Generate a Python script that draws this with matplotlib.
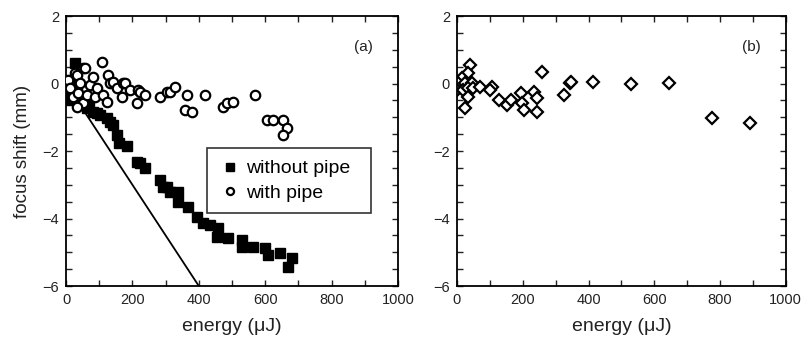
import matplotlib.pyplot as plt
from matplotlib.ticker import MultipleLocator

plt.rcParams['font.family'] = ['Liberation Sans', 'DejaVu Sans']

# (a) without pipe
nopipe_energy = [10, 12, 15, 18, 21, 27, 33, 42, 50, 63, 70, 81, 93, 102, 123, 133, 142,
                 154, 160, 184, 214, 223, 238, 283, 292, 304, 313, 337, 337, 367, 395,
                 413, 434, 458, 455, 488, 530, 530, 563, 599, 608, 645, 681, 669]
nopipe_shift = [-0.1, -0.3, -0.5, -0.4, 0.0, 0.6, -0.2, -0.58, -0.5, -0.73, -0.6, -0.84,
                -0.87, -0.93, -1.02, -1.14, -1.23, -1.53, -1.76, -1.85, -2.33, -2.36,
                -2.5, -2.86, -3.07, -3.07, -3.21, -3.21, -3.5, -3.66, -3.96, -4.13,
                -4.19, -4.28, -4.55, -4.58, -4.64, -4.84, -4.84, -4.87, -5.08, -5.02,
                -5.17, -5.44]

# (a) with pipe
pipe_energy = [6, 12, 21, 27, 33, 36, 42, 51, 51, 57, 63, 72, 81, 87, 93, 108, 111, 123,
               127, 133, 142, 154, 169, 172, 178, 193, 214, 217, 223, 238, 283, 304,
               313, 328, 358, 364, 380, 419, 473, 485, 503, 569, 605, 623, 654, 666, 654, 33]
pipe_shift = [0.1, -0.13, -0.4, 0.31, 0.25, -0.28, 0.01, 0.46, -0.58, 0.46, -0.34, -0.04,
              0.19, -0.4, -0.13, 0.64, -0.34, -0.55, 0.25, 0.01, 0.04, -0.13, -0.4, 0.01,
              0.01, -0.19, -0.58, -0.19, -0.25, -0.34, -0.4, -0.25, -0.25, -0.1, -0.79,
              -0.34, -0.84, -0.34, -0.7, -0.58, -0.55, -0.34, -1.08, -1.08, -1.08,
              -1.32, -1.53, -0.7]

# linear reference line
line_energy = [0, 400]
line_shift = [0, -6]

# (b)
b_energy = [39, 33, 15, 3, 24, 45, 0, 18, 33, 48, 69, 105, 99, 33, 24, 129, 153, 165, 195,
            198, 204, 234, 243, 243, 258, 324, 345, 348, 414, 530, 646, 775, 892]
b_shift = [0.55, 0.31, 0.16, 0.01, 0.01, 0.01, -0.19, -0.19, -0.13, -0.13, -0.1, -0.1,
           -0.19, -0.4, -0.73, -0.49, -0.64, -0.49, -0.28, -0.58, -0.79, -0.25, -0.43,
           -0.84, 0.34, -0.34, 0.01, 0.04, 0.04, -0.01, 0.01, -1.02, -1.17]

fig = plt.figure(figsize=(8.02, 3.46), dpi=100)
ax1 = fig.add_axes([0.0823, 0.1734, 0.414, 0.7803])
ax2 = fig.add_axes([0.5698, 0.1734, 0.41, 0.7803])

ax1.plot(line_energy, line_shift, color='black', lw=1.3, zorder=1)
ax1.plot(nopipe_energy, nopipe_shift, 's', color='black', ms=6.8, ls='none',
         label='without pipe', zorder=2)
ax1.plot(pipe_energy, pipe_shift, 'o', mfc='white', mec='black', mew=1.6, ms=6.8,
         ls='none', label='with pipe', zorder=3)
ax2.plot(b_energy, b_shift, 'D', mfc='white', mec='black', mew=1.6, ms=5.8, ls='none')

for ax, tag in [(ax1, '(a)'), (ax2, '(b)')]:
    ax.set_xlim(0, 1000)
    ax.set_ylim(-6, 2)
    ax.xaxis.set_major_locator(MultipleLocator(200))
    ax.xaxis.set_minor_locator(MultipleLocator(100))
    ax.yaxis.set_major_locator(MultipleLocator(2))
    ax.yaxis.set_minor_locator(MultipleLocator(0.5))
    ax.tick_params(which='both', direction='in', top=True, right=True,
                   length=4, width=1, labelsize=10.5, colors='#222222', pad=5)
    for s in ax.spines.values():
        s.set_linewidth(1.3)
    ax.set_xlabel('energy (μJ)', fontsize=14, color='#222222', labelpad=8)
    ax.text(0.895, 0.885, tag, transform=ax.transAxes, fontsize=11, ha='center',
            va='center', color='#222222')

ax1.set_ylabel('focus shift (mm)', fontsize=13.5, color='#222222', labelpad=8)

ax1.legend(loc='upper left', bbox_to_anchor=(0.425, 0.26, 0.495, 0.251), mode='expand',
           borderaxespad=0, fontsize=14, frameon=True, fancybox=False, edgecolor='black',
           handletextpad=0.2, handlelength=1.2, borderpad=0.6, labelspacing=0.35,
           markerscale=0.75)
leg = ax1.get_legend()
leg.get_frame().set_linewidth(1.2)

fig.savefig('out.png', dpi=100)
